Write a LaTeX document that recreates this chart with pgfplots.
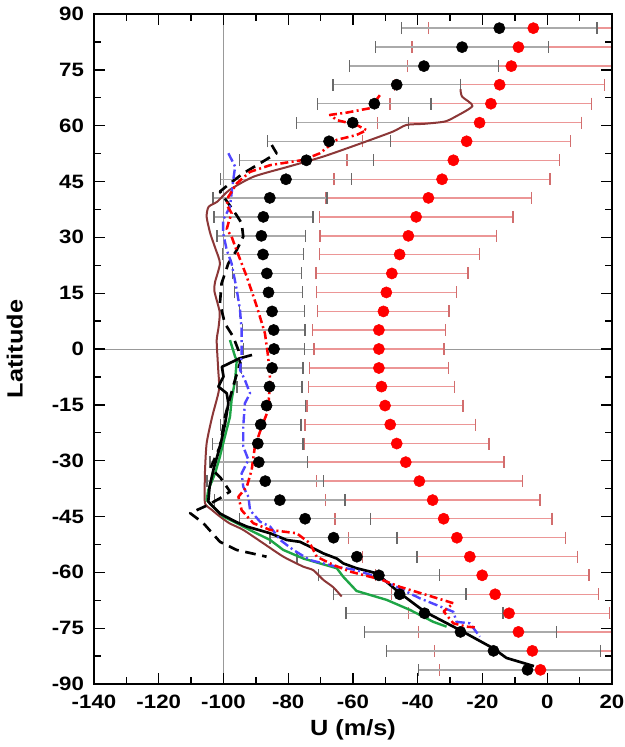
\documentclass[border=0pt]{standalone}
\usepackage{pgfplots}
\usepackage{pgfplotstable}
\pgfplotsset{compat=1.18}
\usepackage{fontspec}
\setmainfont{Liberation Sans}[FakeStretch=1.15]
\definecolor{mybrown}{RGB}{140,55,55}
\definecolor{myblue}{RGB}{80,70,255}
\definecolor{mygreen}{RGB}{30,165,70}
\definecolor{errgray}{RGB}{170,170,170}
\definecolor{errgraycap}{RGB}{105,105,105}
\definecolor{errred}{RGB}{236,150,150}
\definecolor{errredcap}{RGB}{210,110,110}

\pgfplotstableread{
lat u e
86.2 -14.8 30.2
81.1 -26.3 26.7
76.0 -38.1 23.0
71.0 -46.5 19.7
65.9 -53.4 17.5
60.8 -60.1 17.3
55.8 -67.4 19.0
50.7 -74.4 20.7
45.6 -80.7 20.2
40.6 -85.7 17.6
35.5 -87.7 15.3
30.4 -88.3 13.7
25.4 -87.8 12.5
20.3 -86.6 10.7
15.2 -86.1 10.5
10.1 -85.0 10.0
5.1 -84.5 9.7
0.0 -84.4 9.4
-5.1 -85.0 9.5
-10.1 -85.8 10.0
-15.2 -86.7 12.0
-20.3 -88.5 12.5
-25.4 -89.4 14.0
-30.4 -89.1 15.0
-35.5 -87.1 18.0
-40.6 -82.6 20.2
-45.6 -74.8 20.2
-50.7 -66.0 19.6
-55.8 -58.8 18.5
-60.8 -52.0 18.7
-65.9 -45.6 20.5
-71.0 -37.9 24.3
-76.0 -26.8 29.7
-81.1 -16.6 33.0
-86.2 -6.1 33.6
}\blackdata

\pgfplotstableread{
lat u e
86.2 -4.3 32.4
81.1 -8.9 32.9
76.0 -11.1 32.1
71.0 -14.7 32.4
65.9 -17.4 31.1
60.8 -20.9 31.5
55.8 -24.9 32.1
50.7 -29.0 32.8
45.6 -32.5 33.3
40.6 -36.7 31.8
35.5 -40.5 29.9
30.4 -42.9 27.3
25.4 -45.6 24.7
20.3 -48.0 23.5
15.2 -49.7 21.6
10.1 -50.6 20.3
5.1 -52.0 20.5
0.0 -52.0 20.1
-5.1 -52.0 21.5
-10.1 -51.2 22.6
-15.2 -50.1 24.1
-20.3 -48.5 26.3
-25.4 -46.5 28.5
-30.4 -43.7 30.3
-35.5 -39.5 31.8
-40.6 -35.4 33.1
-45.6 -32.0 33.5
-50.7 -27.9 33.5
-55.8 -23.9 33.2
-60.8 -20.1 33.0
-65.9 -16.1 32.0
-71.0 -11.8 31.0
-76.0 -8.9 30.8
-81.1 -4.6 30.3
-86.2 -2.1 31.2
}\reddata

\begin{document}
\begin{tikzpicture}
\useasboundingbox (-70.5pt,-47.25pt) rectangle (398.25pt,513pt);
\begin{axis}[
  at={(0,0)}, anchor=south west,
  scale only axis, width=388.5pt, height=502.5pt,
  xmin=-140, xmax=20, ymin=-90, ymax=90,
  xtick={-140,-120,...,20}, ytick={-90,-75,...,90},
  minor x tick num=1, minor y tick num=1,
  tick align=inside, tick pos=both,
  major tick length=8pt, minor tick length=5pt,
  axis line style={line width=1.6pt},
  every tick/.style={black, line width=1pt},
  tick label style={font=\fontsize{14.5}{16}\selectfont\bfseries},
  xticklabel style={yshift=-5pt},
  yticklabel style={xshift=-4pt},
  /pgf/number format/assume math mode=true,
  xlabel={U (m/s)}, ylabel={Latitude},
  label style={font=\fontsize{16.5}{19}\selectfont\bfseries},
  xlabel style={at={(axis description cs:0.5,-0.069)}, anchor=center},
  ylabel style={at={(axis description cs:-0.153,0.5)}, anchor=center, rotate=0},
  axis on top,
]
% reference lines
\addplot[gray!80, line width=0.6pt] coordinates {(-100,-90) (-100,90)};
\addplot[gray!80, line width=0.6pt] coordinates {(-140,0) (20,0)};

% error bars
\addplot[draw=none, mark=none, error bars/.cd, x dir=both, x explicit, error mark=|,
  error bar style={color=errred, line width=1.1pt},
  error mark options={color=errredcap, line width=1.1pt, mark size=4.5pt}]
  table[x=u, y=lat, x error=e] {\reddata};
\addplot[draw=none, mark=none, error bars/.cd, x dir=both, x explicit, error mark=|,
  error bar style={color=errgray, line width=1.1pt},
  error mark options={color=errgraycap, line width=1.1pt, mark size=4.5pt}]
  table[x=u, y=lat, x error=e] {\blackdata};

% brown solid
\addplot[mybrown, line width=1.5pt, line join=round, smooth, tension=0.4] coordinates {
(-26.8,69.8) (-26.3,67.8) (-23.1,65.3) (-28.4,62.4) (-31.7,61.1) (-38,60.5) (-43.5,60.2)
(-47.7,58.4) (-57.4,55.3) (-69.2,51.7) (-79.9,49) (-90.7,46.3) (-98.2,42.7) (-101.9,39.6)
(-104.6,38.2) (-105.2,35.5) (-104.1,31.1) (-102.5,27) (-101.1,23) (-102.6,18) (-102.8,15.5)
(-101.2,10) (-101.5,6) (-102.1,2.4) (-101.8,-3) (-101.6,-6) (-101.4,-11) (-103.5,-18.2)
(-105.2,-25.3) (-105.7,-32.5) (-105.8,-37) (-105.7,-41.5) (-103.5,-43.3) (-101.1,-45)
(-98.2,-46.8) (-93.9,-48.6) (-87.7,-52.2) (-81.5,-55.8) (-75.3,-58.5) (-72.3,-59.4)
(-69.2,-62) (-66.1,-64) (-63.5,-66.5)};

% green solid
\addplot[mygreen, line width=1.8pt, line join=round] coordinates {
(-98,2.4) (-96.4,-2.1) (-95.9,-3) (-96.4,-8.3) (-97.5,-13.7) (-98,-18.2) (-99.6,-23.6)
(-101.1,-28.9) (-102.6,-33.4) (-104.7,-37.9) (-105.2,-40.6) (-103.2,-42.4) (-100.1,-45)
(-95.9,-46.8) (-90.8,-49.1) (-85.6,-51.3) (-81.5,-54) (-75.3,-56.3) (-70.2,-57.6)
(-65,-58.9) (-63,-61.2) (-58.9,-65) (-49.6,-67.4) (-42.4,-70.1) (-35.2,-73.3) (-31.1,-74.6)};

% black solid
\addplot[black, line width=2pt, line join=round] coordinates {
(-91.2,-1.6) (-95,-2.5) (-100.5,-4.8) (-100,-7.4) (-101.6,-10.1) (-99,-11.9) (-98.5,-14.6)
(-99.5,-20) (-101,-26) (-103,-32) (-104.3,-37) (-104.7,-41) (-101.1,-44.2) (-96,-46.5)
(-92.8,-47.7) (-85.6,-49.5) (-80.5,-51.3) (-76.4,-51.8) (-73.3,-53.1) (-69.2,-54.9)
(-65,-56.3) (-63,-57.6) (-58.9,-58.9) (-54.7,-59.8) (-52.7,-60.3) (-45.5,-65.6)
(-37.8,-70.6) (-27,-75.5) (-16.7,-80.4) (-12.6,-83) (-4.1,-85.2)};

% black dashed
\addplot[black, line width=2pt, dash pattern=on 8pt off 5pt, line join=round] coordinates {
(-85.1,54.8) (-83.6,52.6) (-88.7,49.9) (-93.9,47.2) (-98,44.5) (-101.1,42.3) (-98.5,39.1)
(-96,36) (-94.4,33.8) (-93.9,30.2) (-95.9,26.6) (-98.5,23) (-100.6,17.6) (-101.1,12.3)
(-99.6,6.9) (-97,3.3) (-95.4,-0.3) (-94.9,-3.8) (-97,-10) (-99.5,-18) (-101.1,-26.2)
(-104,-32) (-101,-34.5) (-98,-38.3) (-101.1,-40.1) (-105,-42) (-110.3,-44.1) (-106.2,-46.8)
(-101.1,-51.8) (-95.9,-54) (-86.7,-55.8)};

% blue dash-dot
\addplot[myblue, line width=1.8pt, dash pattern=on 7pt off 2.5pt on 1.5pt off 2.5pt, line join=round] coordinates {
(-98.5,52.6) (-96.4,49) (-97,45.4) (-97.5,41.8) (-98,38.2) (-100.1,34.7) (-100.1,31.1)
(-99,26.6) (-97.5,23) (-95.9,15.9) (-94.9,10.5) (-94.4,5.1) (-94.4,-2.1) (-94.9,-5.6)
(-93.4,-8.3) (-91.8,-11.9) (-93.4,-14.6) (-93.9,-20.9) (-93.9,-26.2) (-92.3,-29.8)
(-94.4,-33.4) (-93.9,-37) (-92.3,-39.7) (-91.8,-43.3) (-88.7,-46.4) (-85.6,-47.7)
(-82.5,-51.3) (-78.4,-54) (-73.3,-56.7) (-65,-58.5) (-58.9,-59.4) (-52,-61.5) (-46.5,-63.9)
(-39.3,-67) (-29,-70.6) (-28,-73.3) (-23.9,-73.7) (-20.8,-77.3)};

% red dash-dot
\addplot[red, line width=1.9pt, dash pattern=on 6pt off 2.5pt on 1.5pt off 2.5pt, line join=round] coordinates {
(-51.7,68.2) (-54.7,64.7) (-62,63.5) (-67.1,62.9) (-65,61.5) (-58.9,60.2) (-55.8,58.8)
(-58.9,57.5) (-65,56.2) (-70.2,52.6) (-75.3,50.8) (-85.6,49.4) (-91.8,47.6) (-95.9,44.5)
(-98.5,40.9) (-99,38.7) (-97.5,36.5) (-98.5,33.8) (-99,32.2) (-97.5,30.2) (-96,26.6)
(-92.8,19.4) (-89.7,11.4) (-87.2,4.2) (-86.2,-2.1) (-85.6,-8.3) (-86.2,-16.4) (-88.2,-20.9)
(-90.3,-26.2) (-91.3,-32.5) (-92.8,-37) (-95.4,-39.7) (-94.4,-43.3) (-90.8,-46.8)
(-85.6,-48.6) (-77.4,-49.5) (-73.3,-52.2) (-71.2,-55.8) (-66.1,-58) (-60.9,-59.8)
(-54.7,-61.2) (-51.7,-61.8) (-45.5,-63.9) (-37.2,-66.1) (-29,-68.3) (-32,-70.5) (-29,-73.7)
(-24.9,-74.6) (-22,-74.8)};

% dots
\addplot[only marks, mark=*, mark size=4.2pt, black] table[x=u, y=lat] {\blackdata};
\addplot[only marks, mark=*, mark size=4.2pt, red, mark options={draw=red, fill=red}] table[x=u, y=lat] {\reddata};
\end{axis}
\end{tikzpicture}
\end{document}
